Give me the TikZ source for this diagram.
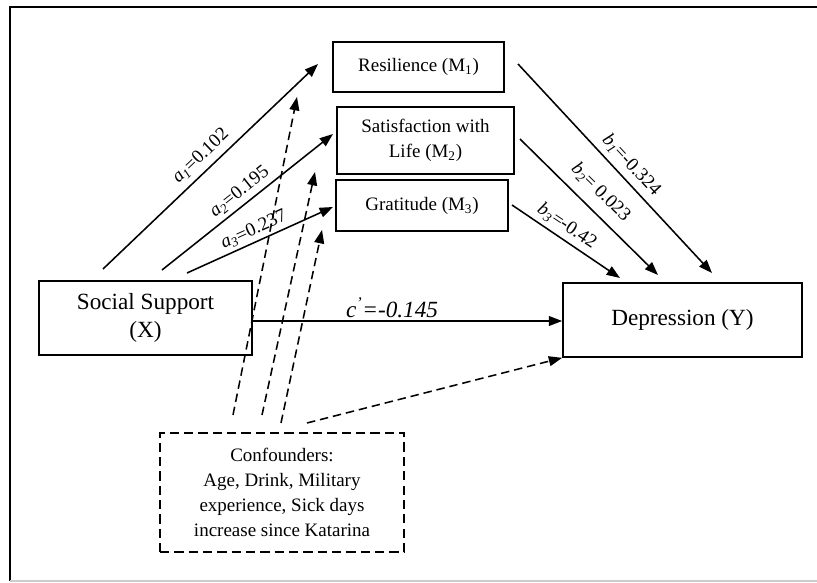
\documentclass[tikz,border=0pt]{standalone}
\usepackage{fontspec}
\setmainfont{Liberation Serif}
\usetikzlibrary{arrows.meta}

\begin{document}
\begin{tikzpicture}[x=0.025cm, y=-0.025cm,
  box/.style={draw, line width=1.2pt, align=center, inner sep=0pt, font=\fontsize{13.5}{17.8}\selectfont},
  bigbox/.style={box, font=\fontsize{16.5}{19.5}\selectfont},
  arr/.style={line width=1.1pt, -{Triangle[length=9.5pt,width=7pt]}},
  darr/.style={arr, dash pattern=on 6pt off 3.5pt},
  lbl/.style={font=\fontsize{13.5}{16}\selectfont, inner sep=1pt}]
  \useasboundingbox (0,0) rectangle (817,583);
  \draw[line width=1.2pt] (817,7) -- (10,7) -- (10,581);
  \draw[gray!40, line width=0.8pt] (10,581) -- (817,581);

  \node[bigbox, minimum width=213*0.025cm, minimum height=74*0.025cm] (social) at (145.5,318) {Social Support\\(X)};
  \node[bigbox, minimum width=239*0.025cm, minimum height=74*0.025cm] (dep) at (682.5,320) {Depression (Y)};

  \node[box, minimum width=171*0.025cm, minimum height=50*0.025cm] (res) at (418.5,67) {Resilience (M\textsubscript{1})};
  \node[box, minimum width=177*0.025cm, minimum height=67*0.025cm] (sat) at (425.5,140.5) {Satisfaction with\\Life (M\textsubscript{2})};
  \node[box, minimum width=172*0.025cm, minimum height=51*0.025cm] (grat) at (422,205.5) {Gratitude (M\textsubscript{3})};

  \node[box, dash pattern=on 6.6pt off 3.6pt, line width=1.4pt, minimum width=244*0.025cm, minimum height=119*0.025cm] (conf) at (282,492.5)
    {Confounders:\\Age, Drink, Military\\experience, Sick days\\increase since Katarina};

  % a paths
  \coordinate (a1s) at (103,269); \coordinate (a1e) at (318,64);
  \coordinate (a2s) at (162,270); \coordinate (a2e) at (333,134);
  \coordinate (a3s) at (187,273); \coordinate (a3e) at (333,207);
  \draw[arr] (a1s) -- node[lbl, sloped, above=3pt, pos=0.5] {\textit{a}\textsubscript{\textit{1}}=0.102} (a1e);
  \draw[arr] (a2s) -- node[lbl, sloped, above=2pt, pos=0.5] {\textit{a}\textsubscript{\textit{2}}=0.195} (a2e);
  \draw[arr] (a3s) -- node[lbl, sloped, above=1pt, pos=0.49] {\textit{a}\textsubscript{\textit{3}}=0.237} (a3e);

  % b paths
  \coordinate (b1s) at (518,64);  \coordinate (b1e) at (712,273);
  \coordinate (b2s) at (520,139); \coordinate (b2e) at (658,275);
  \coordinate (b3s) at (512,205); \coordinate (b3e) at (620,278);
  \draw[arr] (b1s) -- node[lbl, sloped, above=3pt, pos=0.53] {\textit{b}\textsubscript{\textit{1}}=-0.324} (b1e);
  \draw[arr] (b2s) -- node[lbl, sloped, above=6pt, pos=0.49] {\textit{b}\textsubscript{\textit{2}}= 0.023} (b2e);
  \draw[arr] (b3s) -- node[lbl, sloped, above=2pt, pos=0.44] {\textit{b}\textsubscript{\textit{3}}=-0.42} (b3e);

  % direct path
  \draw[arr] (social.east |- 0,321) -- node[lbl, above=1pt, pos=0.45, font=\fontsize{16.5}{19}\selectfont\itshape] {c\textsuperscript{'}=-0.145} (dep.west |- 0,321);

  % confounders
  \coordinate (d1s) at (233,415); \coordinate (d1e) at (297,97);
  \coordinate (d2s) at (262,415); \coordinate (d2e) at (315,172);
  \coordinate (d3s) at (281,423); \coordinate (d3e) at (322,230);
  \coordinate (d4s) at (307,423);
  \draw[darr] (d1s) -- (d1e);
  \draw[darr] (d2s) -- (d2e);
  \draw[darr] (d3s) -- (d3e);
  \draw[darr] (d4s) -- (dep.south west);
\end{tikzpicture}
\end{document}
